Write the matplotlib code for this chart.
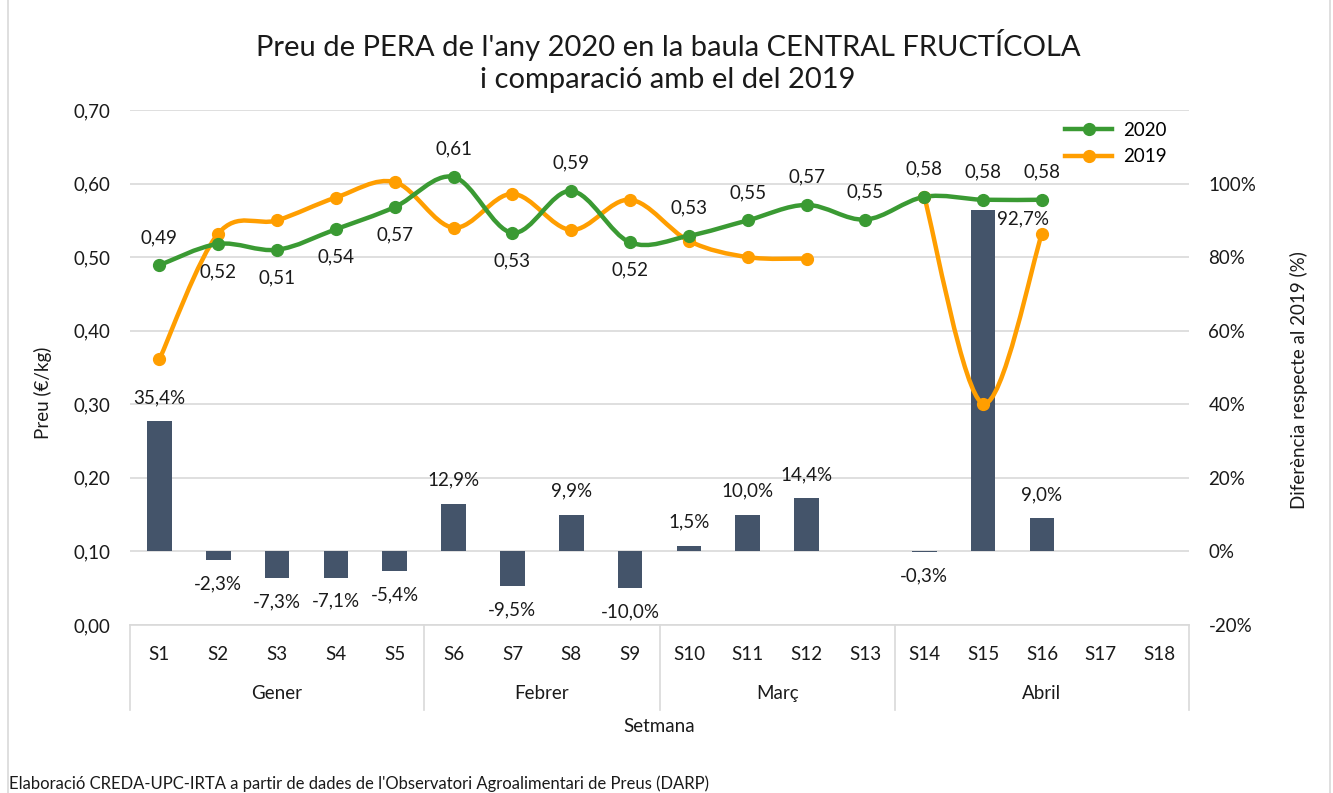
import numpy as np
import matplotlib
matplotlib.use('Agg')
from matplotlib import pyplot as plt
from matplotlib.path import Path
from matplotlib.patches import PathPatch, Rectangle
from matplotlib.lines import Line2D
import matplotlib.transforms as mtransforms

plt.rcParams['font.family'] = ['Lato', 'DejaVu Sans']

# dades
setmanes = ['S' + str(i) for i in range(1, 19)]
mesos = ['Gener', 'Febrer', 'Març', 'Abril']
setmanes_per_mes = [5, 4, 4, 5]
preu_2020 = [0.489, 0.518, 0.510, 0.538, 0.568, 0.609, 0.533, 0.590, 0.520,
             0.529, 0.550, 0.571, 0.551, 0.582, 0.578, 0.578]
preu_2019 = [0.361, 0.532, 0.550, 0.581, 0.602, 0.540, 0.586, 0.537, 0.578,
             0.522, 0.500, 0.498, np.nan, 0.582, 0.301, 0.532]
diferencia = [0.354, -0.023, -0.073, -0.071, -0.054, 0.129, -0.095, 0.099, -0.100,
              0.015, 0.100, 0.144, np.nan, -0.003, 0.927, 0.090]
# posicio de les etiquetes de 2020 (1 = a dalt, -1 = a baix)
pos_etiq_2020 = [1, -1, -1, -1, -1, 1, -1, 1, -1, 1, 1, 1, 1, 1, 1, 1]

verd = '#3A9A33'
taronja = '#FF9E00'
blau = '#44546A'
gris_text = '#1A1A1A'
fs = 13.5


def fmt(v, dec):
    return ('{:.' + str(dec) + 'f}').format(v).replace('.', ',')


def corba_suau(xs, ys):
    # corba de Bezier com la linia suavitzada d'Excel
    xs = np.asarray(xs, float)
    ys = np.asarray(ys, float)
    n = len(xs)
    verts = [(xs[0], ys[0])]
    codes = [Path.MOVETO]
    for i in range(n - 1):
        i0 = max(i - 1, 0)
        i3 = min(i + 2, n - 1)
        c1 = (xs[i] + (xs[i + 1] - xs[i0]) / 6, ys[i] + (ys[i + 1] - ys[i0]) / 6)
        c2 = (xs[i + 1] - (xs[i3] - xs[i]) / 6, ys[i + 1] - (ys[i3] - ys[i]) / 6)
        verts += [c1, c2, (xs[i + 1], ys[i + 1])]
        codes += [Path.CURVE4] * 3
    return Path(verts, codes)


def dibuixa_serie(ax, vals, color):
    x = np.arange(len(vals))
    v = np.asarray(vals, float)
    ok = ~np.isnan(v)
    # trams sense buits
    inici = None
    for i in range(len(v) + 1):
        if i < len(v) and ok[i]:
            if inici is None:
                inici = i
        else:
            if inici is not None and i - inici > 1:
                p = corba_suau(x[inici:i], v[inici:i])
                ax.add_patch(PathPatch(p, fill=False, edgecolor=color, lw=3.2,
                                       capstyle='round', joinstyle='round', zorder=3))
            inici = None
    ax.plot(x[ok], v[ok], 'o', color=color, markersize=8.5, zorder=4)


fig = plt.figure(figsize=(13.33, 7.93), dpi=100)
ax = fig.add_axes([0.0975, 0.2119, 0.7945, 0.6494])
ax2 = ax.twinx()

n = len(setmanes)
xb = np.arange(len(diferencia))

# barres (eix dret)
ax.bar(xb, diferencia, width=0.42, color=blau, zorder=2)
for i, d in enumerate(diferencia):
    if np.isnan(d):
        continue
    txt = fmt(d * 100, 1) + '%'
    if i == 14:
        ax.annotate(txt, (i, d), xytext=(29, -6), textcoords='offset points',
                    ha='center', va='center', fontsize=fs, color=gris_text)
    elif d >= 0:
        ax.annotate(txt, (i, d), xytext=(0, 17), textcoords='offset points',
                    ha='center', va='center', fontsize=fs, color=gris_text)
    else:
        ax.annotate(txt, (i, d), xytext=(0, -17), textcoords='offset points',
                    ha='center', va='center', fontsize=fs, color=gris_text)

ax.set_ylim(-0.2, 1.2)
ax.set_yticks(np.arange(-0.2, 1.21, 0.2))
ax.set_yticklabels([fmt(t * 100, 0) + '%' for t in np.arange(-0.2, 1.01, 0.2)] + [''])
ax.yaxis.tick_right()
ax.grid(axis='y', color='#D9D9D9', lw=1.2, zorder=0)
ax.set_axisbelow(True)
ax.set_ylabel('Diferència respecte al 2019 (%)', fontsize=fs, color=gris_text)
ax.yaxis.set_label_position('right')
ax.yaxis.set_label_coords(1.095, 0.476)

# linies (eix esquerre)
dibuixa_serie(ax2, preu_2019, taronja)
dibuixa_serie(ax2, preu_2020, verd)
for i, v in enumerate(preu_2020):
    ax2.annotate(fmt(v, 2), (i, v), xytext=(0, 20 * pos_etiq_2020[i]),
                 textcoords='offset points', ha='center', va='center',
                 fontsize=fs, color=gris_text)
ax2.set_ylim(0, 0.7)
ax2.set_yticks(np.arange(0, 0.71, 0.1))
ax2.set_yticklabels([fmt(t, 2) for t in np.arange(0, 0.71, 0.1)])
ax2.yaxis.tick_left()
ax2.yaxis.set_label_position('left')
ax2.set_ylabel('Preu (€/kg)', fontsize=fs, color=gris_text)
ax2.yaxis.set_label_coords(-0.074, 0.45)

for a in (ax, ax2):
    a.set_xlim(-0.5, n - 0.5)
    a.tick_params(axis='y', length=0, labelsize=fs, colors=gris_text, pad=14)
    a.tick_params(axis='x', length=0)
    for s in a.spines.values():
        s.set_visible(False)
ax.spines['bottom'].set_visible(True)
ax.spines['bottom'].set_color('#D9D9D9')
ax.spines['bottom'].set_linewidth(1.2)
ax.set_xticks(np.arange(n))
ax.set_xticklabels(setmanes, fontsize=fs, color=gris_text)
ax.tick_params(axis='x', pad=15)

# etiquetes de mesos i separadors
trans = mtransforms.blended_transform_factory(ax.transData, ax.transAxes)
limits = np.concatenate([[0], np.cumsum(setmanes_per_mes)]) - 0.5
for lim in limits:
    ax.add_line(Line2D([lim, lim], [0, -0.165], transform=trans, color='#D9D9D9',
                       lw=1.2, clip_on=False))
for k, mes in enumerate(mesos):
    centre = (limits[k] + limits[k + 1]) / 2
    ax.text(centre, -0.134, mes, transform=trans, ha='center', va='center',
            fontsize=fs, color=gris_text)
ax.text(0.5, -0.198, 'Setmana', transform=ax.transAxes, ha='center', va='center',
        fontsize=fs, color=gris_text)

# llegenda
handles = [Line2D([], [], color=verd, lw=3.2, marker='o', markersize=8.5),
           Line2D([], [], color=taronja, lw=3.2, marker='o', markersize=8.5)]
ax2.legend(handles, ['2020', '2019'], loc='upper right', bbox_to_anchor=(0.995, 1.01),
           frameon=False, fontsize=fs, handlelength=2.5, handletextpad=0.6,
           labelspacing=0.5)

fig.text(0.501, 0.943, "Preu de PERA de l'any 2020 en la baula CENTRAL FRUCTÍCOLA",
         ha='center', va='center', fontsize=21, color=gris_text)
fig.text(0.501, 0.899, "i comparació amb el del 2019",
         ha='center', va='center', fontsize=21, color=gris_text)
fig.text(0.007, 0.012, "Elaboració CREDA-UPC-IRTA a partir de dades de l'Observatori "
         "Agroalimentari de Preus (DARP)", ha='left', va='center', fontsize=12,
         color=gris_text)

fig.patches.append(Rectangle((0.006, -0.05), 0.992, 1.1, transform=fig.transFigure,
                             fill=False, edgecolor='#D9D9D9', lw=1.2))

plt.savefig('out.png', dpi=100)
